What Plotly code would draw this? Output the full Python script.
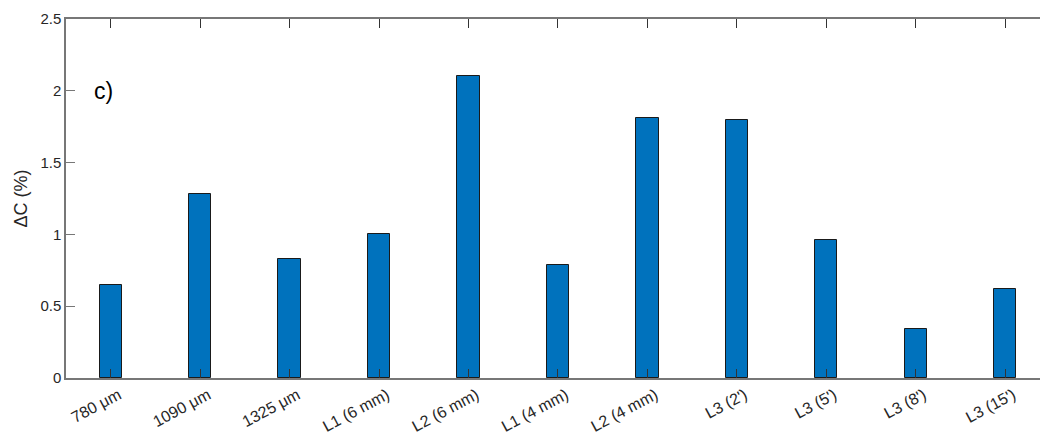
import plotly.graph_objects as go

categories = ["780 μm", "1090 μm", "1325 μm", "L1 (6 mm)", "L2 (6 mm)", "L1 (4 mm)",
              "L2 (4 mm)", "L3 (2')", "L3 (5')", "L3 (8')", "L3 (15')"]
values = [0.65, 1.28, 0.83, 1.00, 2.10, 0.79, 1.81, 1.80, 0.96, 0.34, 0.62]
y_ticks = [0, 0.5, 1, 1.5, 2, 2.5]
y_ticktext = ["0", "0.5", "1", "1.5", "2", "2.5"]

positions = list(range(1, len(categories) + 1))

fig = go.Figure()
fig.add_trace(go.Bar(
    x=positions, y=values, width=0.25,
    marker=dict(color="#0072BD", line=dict(color="#1a1a1a", width=1)),
    showlegend=False,
))

fam = "Liberation Sans, Arial, sans-serif"
xtick_font = dict(family=fam, size=16, color="#262626")
ytick_font = dict(family=fam, size=15, color="#262626")

fig.update_layout(
    width=1040, height=437,
    margin=dict(l=66, r=0, t=19, b=59),
    paper_bgcolor="white", plot_bgcolor="white",
    font=ytick_font,
    bargap=0,
    xaxis=dict(
        range=[0.5, 11.39], tickvals=positions, ticktext=categories,
        tickangle=-28, ticks="inside", ticklen=9, tickcolor="#333", tickwidth=1,
        showline=True, linecolor="#777", linewidth=1.5, mirror="ticks",
        showgrid=False, zeroline=False, tickfont=xtick_font, layer="above traces",
        ticklabelshift=8,
    ),
    yaxis=dict(
        range=[0, 2.5], tickvals=y_ticks, ticktext=y_ticktext,
        ticks="inside", ticklen=9, tickcolor="#777", tickwidth=1,
        showline=True, linecolor="#777", linewidth=1.5, mirror=False,
        showgrid=False, zeroline=False, tickfont=ytick_font,
        title=dict(text="ΔC (%)", font=dict(family=fam, size=18, color="#262626"), standoff=8),
    ),
    annotations=[dict(
        x=0.79, y=2.0, xref="x", yref="y", text="c)", showarrow=False,
        xanchor="left", yanchor="middle",
        font=dict(family=fam, size=23, color="black"),
    )],
)

fig.write_html("out.html")
